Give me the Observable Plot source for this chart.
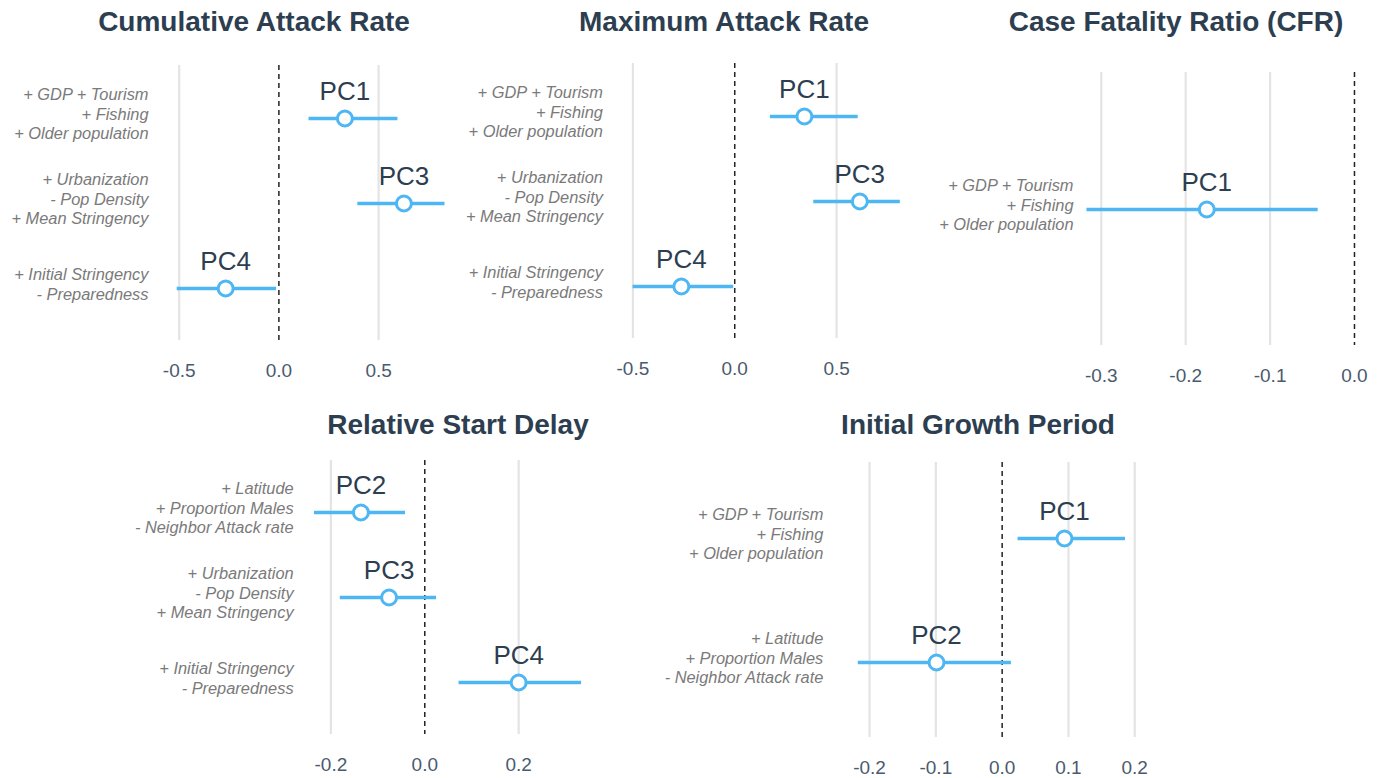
<!DOCTYPE html>
<html>
<head>
<meta charset="utf-8">
<script src="https://cdn.jsdelivr.net/npm/d3@7"></script>
<script src="https://cdn.jsdelivr.net/npm/@observablehq/plot@0.6"></script>
<style>
  html, body { margin: 0; padding: 0; background: #ffffff; }
  #root { position: relative; width: 1386px; height: 778px; overflow: hidden; font-family: "Liberation Sans", Arial, sans-serif; }
  .panel { position: absolute; }
  .title { position: absolute; transform: translate(-50%, -50%); white-space: nowrap;
           font-family: "Liberation Sans", Arial, sans-serif; font-weight: bold; font-size: 28px; color: #2c3e50; }
</style>
</head>
<body>
<div id="root"></div>
<script>
// ---------------- data ----------------
const titles = ["Cumulative Attack Rate", "Maximum Attack Rate", "Case Fatality Ratio (CFR)", "Relative Start Delay", "Initial Growth Period"];

const pcLabels = {
  PC1: "+ GDP + Tourism\n+ Fishing\n+ Older population",
  PC2: "+ Latitude\n+ Proportion Males\n- Neighbor Attack rate",
  PC3: "+ Urbanization\n- Pop Density\n+ Mean Stringency",
  PC4: "+ Initial Stringency\n- Preparedness"
};

const cumPC  = ["PC1", "PC3", "PC4"];
const cumEst = [0.331, 0.627, -0.267];
const cumLo  = [0.151, 0.396, -0.510];
const cumHi  = [0.597, 0.833, -0.012];
const cumTicks = [-0.5, 0, 0.5];

const maxPC  = ["PC1", "PC3", "PC4"];
const maxEst = [0.342, 0.614, -0.262];
const maxLo  = [0.175, 0.388, -0.499];
const maxHi  = [0.606, 0.813, -0.005];
const maxTicks = [-0.5, 0, 0.5];

const cfrPC  = ["PC1"];
const cfrEst = [-0.175];
const cfrLo  = [-0.317];
const cfrHi  = [-0.043];
const cfrTicks = [-0.3, -0.2, -0.1, 0];

const delayPC  = ["PC2", "PC3", "PC4"];
const delayEst = [-0.136, -0.076, 0.200];
const delayLo  = [-0.235, -0.180, 0.073];
const delayHi  = [-0.041, 0.025, 0.334];
const delayTicks = [-0.2, 0, 0.2];

const growthPC  = ["PC1", "PC2"];
const growthEst = [0.094, -0.099];
const growthLo  = [0.024, -0.217];
const growthHi  = [0.186, 0.014];
const growthTicks = [-0.2, -0.1, 0, 0.1, 0.2];

// ---------------- layout ----------------
const BLUE = "#4db6f3";
const FONT = "Liberation Sans, Arial, sans-serif";

const panels = [
  {title: titles[0], pc: cumPC, est: cumEst, lo: cumLo, hi: cumHi, ticks: cumTicks,
   left: 0, top: 45, plotH: 275, marginLeft: 176.7, domain: [-0.51, 0.835], ppu: 199.4, gap: 28.7, tx: 254, ty: 22},
  {title: titles[1], pc: maxPC, est: maxEst, lo: maxLo, hi: maxHi, ticks: maxTicks,
   left: 460, top: 43, plotH: 275, marginLeft: 172.4, domain: [-0.5, 0.815], ppu: 203.7, gap: 30, tx: 724, ty: 22},
  {title: titles[2], pc: cfrPC, est: cfrEst, lo: cfrLo, hi: cfrHi, ticks: cfrTicks,
   left: 920, top: 52, plotH: 273, marginLeft: 165.6, domain: [-0.318, 0.003], ppu: 844, gap: 12.6, tx: 1176, ty: 22},
  {title: titles[3], pc: delayPC, est: delayEst, lo: delayLo, hi: delayHi, ticks: delayTicks,
   left: 0, top: 440, plotH: 274, marginLeft: 311.6, domain: [-0.24, 0.34], ppu: 469.5, gap: 18.5, tx: 458, ty: 425},
  {title: titles[4], pc: growthPC, est: growthEst, lo: growthLo, hi: growthHi, ticks: growthTicks,
   left: 620, top: 442, plotH: 275, marginLeft: 235.8, domain: [-0.22, 0.2], ppu: 663, gap: 33, tx: 978, ty: 425}
];

const root = document.getElementById("root");
const fmt = d => d.toFixed(1);

for (const p of panels) {
  const rows = p.pc.map((pc, i) => ({pc, est: p.est[i], lo: p.lo[i], hi: p.hi[i]}));
  const marginTop = 20, marginBottom = 46, marginRight = 14;
  const plotW = (p.domain[1] - p.domain[0]) * p.ppu;
  const chart = Plot.plot({
    width: p.marginLeft + plotW + marginRight,
    height: marginTop + p.plotH + marginBottom,
    marginLeft: p.marginLeft,
    marginRight,
    marginTop,
    marginBottom,
    style: {fontFamily: FONT, background: "transparent", overflow: "visible"},
    x: {domain: p.domain, axis: null},
    y: {type: "point", domain: p.pc, padding: 0.6, axis: null},
    marks: [
      Plot.ruleX(p.ticks.filter(t => t !== 0), {stroke: "#e4e4e4", strokeWidth: 2.2}),
      Plot.ruleX([0], {stroke: "#222", strokeWidth: 1.5, strokeDasharray: "5,4"}),
      Plot.axisX({ticks: p.ticks, tickFormat: fmt, tickSize: 0, tickPadding: 23, fontSize: 19, fill: "#4a5a6e"}),
      Plot.ruleY(rows, {y: "pc", x1: "lo", x2: "hi", stroke: BLUE, strokeWidth: 3.6}),
      Plot.dot(rows, {x: "est", y: "pc", r: 7.5, fill: "white", stroke: BLUE, strokeWidth: 3}),
      Plot.text(rows, {x: "est", y: "pc", text: "pc", dy: -27, fontSize: 26, fill: "#2c3e50"}),
      Plot.text(rows, {y: "pc", text: d => pcLabels[d.pc], frameAnchor: "left", textAnchor: "end",
                       dx: -p.gap, dy: -5, fontSize: 16.4, fontStyle: "italic", fill: "#7a7a7a", lineHeight: 1.2})
    ]
  });
  const wrap = document.createElement("div");
  wrap.className = "panel";
  wrap.style.left = p.left + "px";
  wrap.style.top = p.top + "px";
  wrap.appendChild(chart);
  root.appendChild(wrap);

  const t = document.createElement("div");
  t.className = "title";
  t.style.left = p.tx + "px";
  t.style.top = p.ty + "px";
  t.textContent = p.title;
  root.appendChild(t);
}
</script>
</body>
</html>
